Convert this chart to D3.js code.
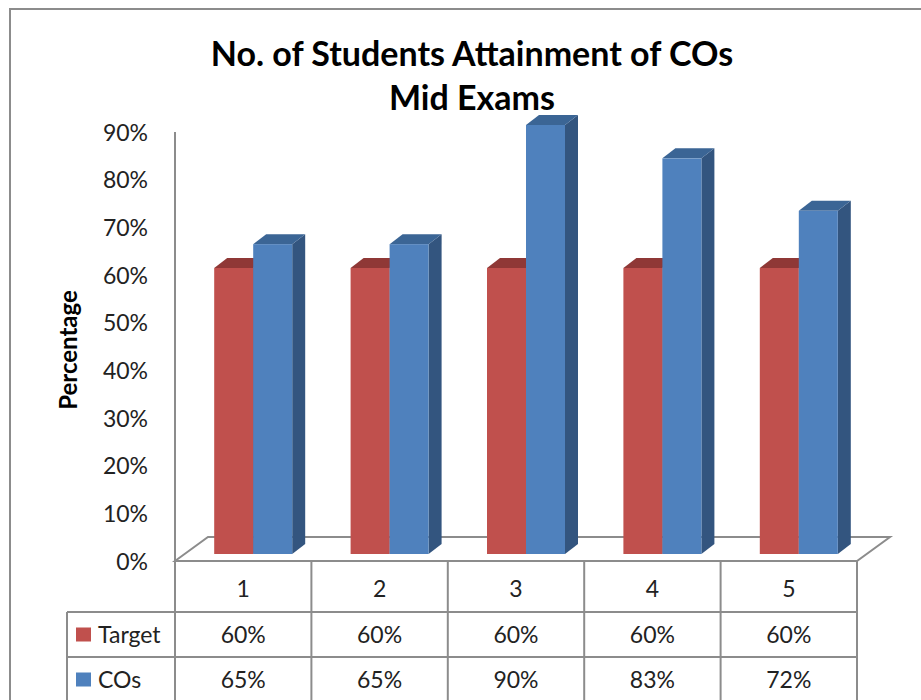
<!DOCTYPE html>
<html>
<head>
<meta charset="utf-8">
<script src="https://cdn.jsdelivr.net/npm/d3@7"></script>
<style>
  html, body { margin: 0; padding: 0; background: #fff; }
  svg { display: block; }
</style>
</head>
<body>
<svg id="chart" width="921" height="700"></svg>
<script>
// ---- data ----
const categories = ["1", "2", "3", "4", "5"];
const seriesNames = ["Target", "COs"];
const targetValues = [0.60, 0.60, 0.60, 0.60, 0.60];
const cosValues = [0.65, 0.65, 0.90, 0.83, 0.72];
const tickValues = [0, 0.1, 0.2, 0.3, 0.4, 0.5, 0.6, 0.7, 0.8, 0.9];
const titleLines = ["No. of Students Attainment of COs", "Mid Exams"];
const yAxisTitle = "Percentage";

const seriesValues = { "Target": targetValues, "COs": cosValues };
const colors = {
  "Target": { front: "#C0504D", top: "#8F3836", side: "#7F2F2D" },
  "COs":    { front: "#4F81BD", top: "#3B6595", side: "#33557F" }
};

const svg = d3.select("#chart");
const font = "Lato, 'Open Sans', sans-serif";
const gridColor = "#8C8C8C";

// outer frame
svg.append("rect").attr("x", 10).attr("y", 9).attr("width", 940).attr("height", 720)
  .attr("fill", "none").attr("stroke", gridColor).attr("stroke-width", 2);

// title
svg.append("g").selectAll("text").data(titleLines).join("text")
  .attr("x", 472).attr("y", (d, i) => 66 + i * 44)
  .attr("text-anchor", "middle")
  .attr("font-family", font).attr("font-weight", "bold").attr("font-size", 34)
  .attr("fill", "#000").text(d => d);

// scales
const plotLeft = 175, plotRight = 857;
const x0 = d3.scaleBand().domain(categories).range([plotLeft, plotRight]).padding(0);
const y = d3.scaleLinear().domain([0, 0.9]).range([561, 132]);
const depthX = 33, depthY = -24;       // floor depth
const barShiftX = 10, barShiftY = -7;  // bars sit inside the depth
const barDX = 13, barDY = -10;         // bar 3D extrusion
const barW = 39;
const x1 = d3.scaleBand().domain(seriesNames).range([-barW, barW]).padding(0);

// vertical axis line
svg.append("line").attr("x1", plotLeft).attr("x2", plotLeft)
  .attr("y1", y(0.9)).attr("y2", 561)
  .attr("stroke", gridColor).attr("stroke-width", 2);

// floor
const floorPts = [[plotLeft, 561], [plotLeft + depthX, 561 + depthY],
                  [plotRight + depthX, 561 + depthY], [plotRight, 561]];
svg.append("path").attr("d", "M" + floorPts.map(p => p.join(",")).join("L") + "Z")
  .attr("fill", "none").attr("stroke", gridColor).attr("stroke-width", 2);

// y axis labels
const yAxis = d3.axisLeft(y).tickValues(tickValues).tickFormat(d3.format(".0%")).tickSize(0).tickPadding(27);
const yg = svg.append("g").attr("transform", `translate(${plotLeft},0)`).call(yAxis);
yg.select(".domain").remove();
yg.selectAll("text").attr("font-family", font).attr("font-size", 23).attr("fill", "#222")
  .attr("dy", "0.36em");

// y axis title
svg.append("text")
  .attr("transform", "translate(77,350) rotate(-90)")
  .attr("text-anchor", "middle")
  .attr("font-family", font).attr("font-weight", "bold").attr("font-size", 24)
  .attr("fill", "#000").text(yAxisTitle);

// bars
const bars = [];
categories.forEach((c, i) => {
  seriesNames.forEach(s => {
    bars.push({ cat: c, series: s, value: seriesValues[s][i] });
  });
});
const barG = svg.append("g").attr("transform", `translate(${barShiftX},${barShiftY})`);
const base = y(0);
const cells = barG.selectAll("g.bar").data(bars).join("g").attr("class", "bar");
cells.each(function(d) {
  const g = d3.select(this);
  const bx = x0(d.cat) + x0.bandwidth() / 2 + x1(d.series);
  const w = x1.bandwidth();
  const top = y(d.value);
  g.append("path").attr("d",
    `M${bx + w},${top}L${bx + w + barDX},${top + barDY}L${bx + w + barDX},${base + barDY}L${bx + w},${base}Z`)
    .attr("fill", colors[d.series].side);
  g.append("path").attr("d",
    `M${bx},${top}L${bx + barDX},${top + barDY}L${bx + w + barDX},${top + barDY}L${bx + w},${top}Z`)
    .attr("fill", colors[d.series].top);
  g.append("rect").attr("x", bx).attr("y", top).attr("width", w).attr("height", base - top)
    .attr("fill", colors[d.series].front);
});

// data table
const tableLeft = 67;
const rowLines = [612, 657, 702];
const rowCenters = [586.5, 634.5, 679.5];
const tg = svg.append("g").attr("stroke", gridColor).attr("stroke-width", 2);
rowLines.forEach(ry => tg.append("line").attr("x1", tableLeft).attr("x2", plotRight).attr("y1", ry).attr("y2", ry));
const colEdges = categories.map(c => x0(c)).concat([plotRight]);
colEdges.forEach(cx => tg.append("line").attr("x1", cx).attr("x2", cx).attr("y1", 561).attr("y2", 720));
tg.append("line").attr("x1", tableLeft).attr("x2", tableLeft).attr("y1", 612).attr("y2", 720);

// header labels
svg.append("g").selectAll("text").data(categories).join("text")
  .attr("x", c => x0(c) + x0.bandwidth() / 2).attr("y", rowCenters[0] + 10)
  .attr("text-anchor", "middle").attr("font-family", font).attr("font-size", 23).attr("fill", "#222")
  .text(c => c);

// rows
seriesNames.forEach((s, r) => {
  const cy = rowCenters[r + 1];
  svg.append("rect").attr("x", 76).attr("y", cy - 7).attr("width", 15).attr("height", 14)
    .attr("fill", colors[s].front);
  svg.append("text").attr("x", 98).attr("y", cy + 8)
    .attr("font-family", font).attr("font-size", 23).attr("fill", "#222").text(s);
  svg.append("g").selectAll("text").data(seriesValues[s]).join("text")
    .attr("x", (v, i) => x0(categories[i]) + x0.bandwidth() / 2).attr("y", cy + 8)
    .attr("text-anchor", "middle").attr("font-family", font).attr("font-size", 23).attr("fill", "#222")
    .text(v => d3.format(".0%")(v));
});
</script>
</body>
</html>
